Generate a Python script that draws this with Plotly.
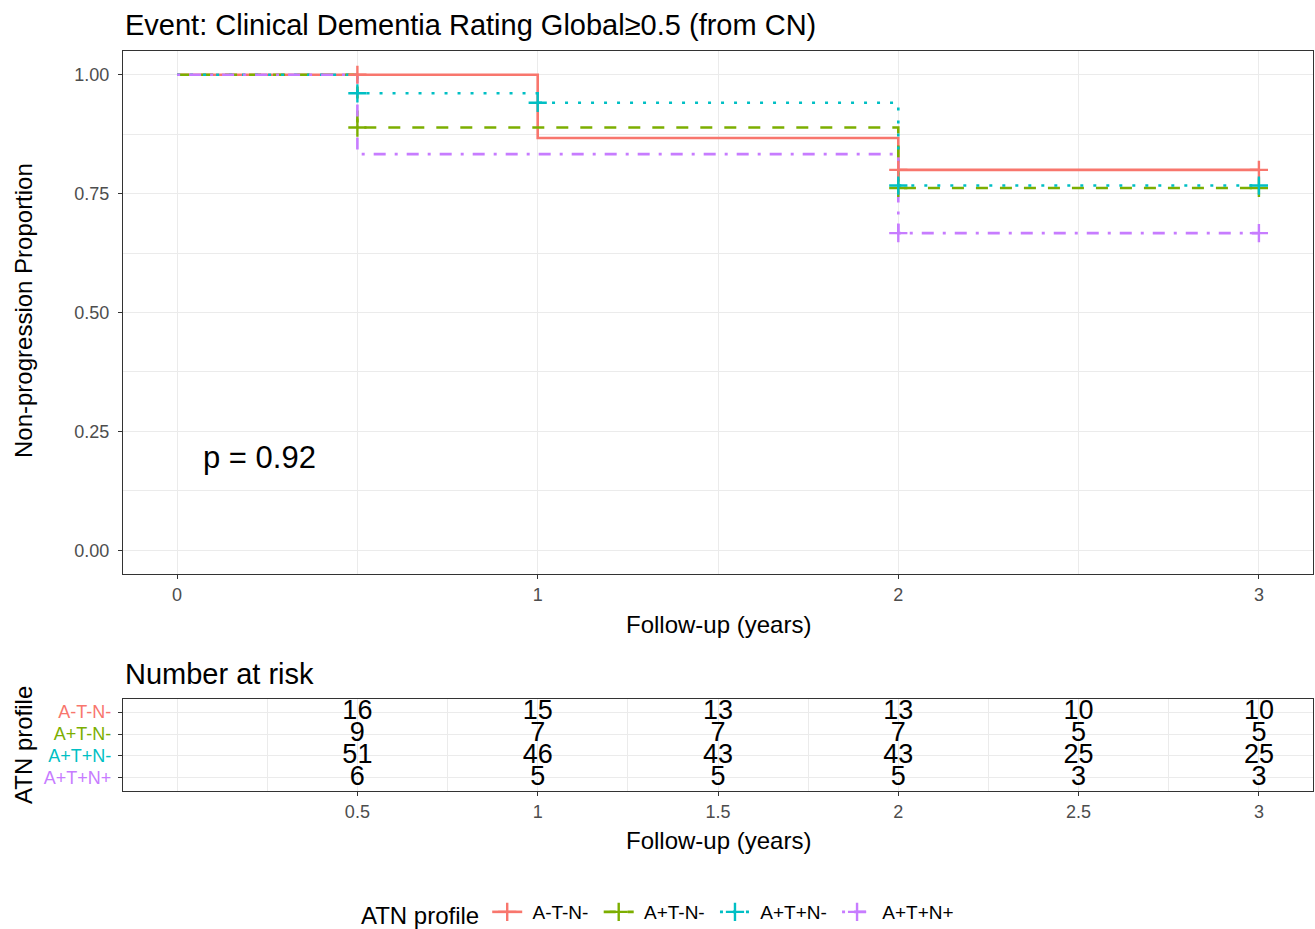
import plotly.graph_objects as go

W, H = 1315, 929

# ---------------- data ----------------
strata = ["A-T-N-", "A+T-N-", "A+T+N-", "A+T+N+"]
colors = ["#F8766D", "#7CAE00", "#00BFC4", "#C77CFF"]
dashes = ["solid", "12px,12px", "3px,10px", "3px,9px,12px,9px"]

times = [[0, 1, 2, 3],
         [0, 0.5, 2, 3],
         [0, 0.5, 1, 2, 3],
         [0, 0.5, 2, 3]]
surv = [[1.0, 0.867, 0.800, 0.800],
        [1.0, 0.889, 0.762, 0.762],
        [1.0, 0.961, 0.941, 0.767, 0.767],
        [1.0, 0.833, 0.667, 0.667]]

cens_t = [[0.5, 2, 3],
          [0.5, 2, 3],
          [0.5, 1, 2, 3],
          [2, 3]]
cens_s = [[1.0, 0.800, 0.800],
          [0.889, 0.762, 0.762],
          [0.961, 0.941, 0.767, 0.767],
          [0.667, 0.667]]

risk_times = [0.5, 1, 1.5, 2, 2.5, 3]
risk = [[16, 15, 13, 13, 10, 10],
        [9, 7, 7, 7, 5, 5],
        [51, 46, 43, 43, 25, 25],
        [6, 5, 5, 5, 3, 3]]

main_xticks = [0, 1, 2, 3]
main_yticks = [0, 0.25, 0.5, 0.75, 1.0]
risk_xticks = [0.5, 1, 1.5, 2, 2.5, 3]
risk_xlabels = ["0.5", "1", "1.5", "2", "2.5", "3"]

title_text = "Event: Clinical Dementia Rating Global≥0.5 (from CN)"
pval_text = "p = 0.92"

# ---------------- layout helpers ----------------
def px_x(p):
    return p / W

def px_y(p):
    return 1 - p / H

FONT = "Liberation Sans, Arial, sans-serif"
GRID = "#EBEBEB"
AX = "#333333"
TICKC = "#4D4D4D"
NBSP = "\u00a0"

fig = go.Figure()

# survival step curves
for i, s in enumerate(strata):
    fig.add_trace(go.Scatter(
        x=times[i], y=surv[i], mode="lines", line_shape="hv",
        line=dict(color=colors[i], width=2.6, dash=dashes[i]),
        showlegend=False, hoverinfo="skip", xaxis="x", yaxis="y"))

# censor marks (gaps between points so no line is drawn, but legend shows line+marker)
for i, s in enumerate(strata):
    xs, ys = [], []
    for t, v in zip(cens_t[i], cens_s[i]):
        xs += [t, None]
        ys += [v, None]
    fig.add_trace(go.Scatter(
        x=xs, y=ys, mode="lines+markers", connectgaps=False,
        name=NBSP + s + NBSP,
        line=dict(color=colors[i], width=2.6, dash=dashes[i]),
        marker=dict(symbol="cross-thin", size=13, color=colors[i],
                    line=dict(color=colors[i], width=2.4)),
        xaxis="x", yaxis="y"))

# risk table numbers
for i, s in enumerate(strata):
    fig.add_trace(go.Scatter(
        x=risk_times, y=[s] * len(risk_times), mode="text",
        text=[str(v) for v in risk[i]],
        textfont=dict(family=FONT, size=27, color="black"),
        showlegend=False, hoverinfo="skip", xaxis="x2", yaxis="y2"))

x_dom = [px_x(123), px_x(1313)]

axis_common = dict(showline=True, linecolor=AX, linewidth=1.2, mirror=True,
                   ticks="outside", ticklen=4, tickcolor=AX, tickwidth=1,
                   tickfont=dict(family=FONT, size=18, color=TICKC),
                   gridcolor=GRID, gridwidth=1, zeroline=False)

fig.update_layout(
    width=W, height=H, autosize=False,
    margin=dict(l=0, r=0, t=0, b=0, autoexpand=False),
    paper_bgcolor="white", plot_bgcolor="white",
    font=dict(family=FONT, color="black"),
    xaxis=dict(domain=x_dom, anchor="y", range=[-0.15, 3.15],
               tickmode="array", tickvals=main_xticks,
               ticktext=[str(v) for v in main_xticks],
               minor=dict(dtick=0.5, tick0=0, showgrid=True, gridcolor=GRID,
                          gridwidth=0.6, ticks=""),
               **axis_common),
    yaxis=dict(domain=[px_y(574), px_y(51)], anchor="x", range=[-0.05, 1.05],
               tickmode="array", tickvals=main_yticks,
               ticktext=["%.2f" % v for v in main_yticks],
               ticklabelstandoff=5,
               minor=dict(dtick=0.125, tick0=0, showgrid=True, gridcolor=GRID,
                          gridwidth=0.6, ticks=""),
               **axis_common),
    xaxis2=dict(domain=x_dom, anchor="y2", range=[-0.15, 3.15],
                tickmode="array", tickvals=risk_xticks, ticktext=risk_xlabels,
                minor=dict(dtick=0.25, tick0=0, showgrid=True, gridcolor=GRID,
                           gridwidth=0.6, ticks=""),
                **axis_common),
    yaxis2=dict(domain=[px_y(791), px_y(699)], anchor="x2",
                type="category", categoryarray=list(reversed(strata)),
                range=[-0.6, 3.6],
                tickmode="array", tickvals=strata,
                ticktext=['<span style="color:%s">%s</span>' % (c, s)
                          for s, c in zip(strata, colors)],
                ticklabelstandoff=3,
                **axis_common),
    legend=dict(orientation="h", x=0.503, xanchor="center",
                y=px_y(914), yanchor="middle",
                title=dict(text="ATN profile", side="left",
                           font=dict(family=FONT, size=24, color="black")),
                font=dict(family=FONT, size=19, color="black"),
                itemwidth=30, bgcolor="rgba(0,0,0,0)"),
)

ann = [
    dict(text=title_text, x=px_x(123), y=px_y(25), xanchor="left", yanchor="middle",
         font=dict(size=29)),
    dict(text="Number at risk", x=px_x(123), y=px_y(674), xanchor="left", yanchor="middle",
         font=dict(size=29)),
    dict(text="Follow-up (years)", x=px_x(718), y=px_y(624), xanchor="center", yanchor="middle",
         font=dict(size=24)),
    dict(text="Follow-up (years)", x=px_x(718), y=px_y(840), xanchor="center", yanchor="middle",
         font=dict(size=24)),
    dict(text="Non-progression Proportion", x=px_x(23), y=px_y(311), xanchor="center",
         yanchor="middle", textangle=-90, font=dict(size=24)),
    dict(text="ATN profile", x=px_x(23), y=px_y(745), xanchor="center",
         yanchor="middle", textangle=-90, font=dict(size=24)),
]
for a in ann:
    a.update(xref="paper", yref="paper", showarrow=False)
    a["font"].update(family=FONT, color="black")
    fig.add_annotation(**a)

fig.add_annotation(text=pval_text, x=0.066, y=0.195, xref="x", yref="y",
                   xanchor="left", yanchor="middle", showarrow=False,
                   font=dict(family=FONT, size=31, color="black"))

fig.write_html("out.html")
